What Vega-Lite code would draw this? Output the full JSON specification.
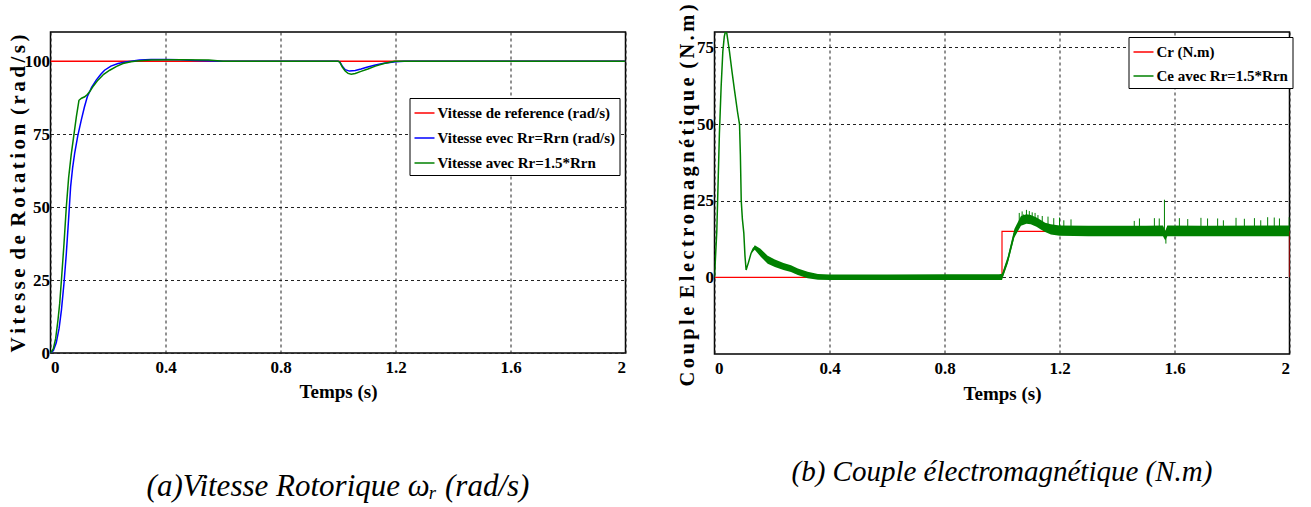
{
  "$schema": "https://vega.github.io/schema/vega-lite/v6.json",
  "background": "white",
  "padding": {"left": 6.5, "top": 3, "right": 0, "bottom": 0},
  "spacing": 50,
  "datasets": {
    "speed": [
      {"t": 0, "v": 100, "s": "Vitesse de reference (rad/s)"},
      {"t": 2, "v": 100, "s": "Vitesse de reference (rad/s)"},
      {"t": 0, "v": 0, "s": "Vitesse evec Rr=Rrn (rad/s)"},
      {"t": 0.01, "v": 0.8, "s": "Vitesse evec Rr=Rrn (rad/s)"},
      {"t": 0.02, "v": 3.5, "s": "Vitesse evec Rr=Rrn (rad/s)"},
      {"t": 0.03, "v": 8.5, "s": "Vitesse evec Rr=Rrn (rad/s)"},
      {"t": 0.038, "v": 14.7, "s": "Vitesse evec Rr=Rrn (rad/s)"},
      {"t": 0.047, "v": 24, "s": "Vitesse evec Rr=Rrn (rad/s)"},
      {"t": 0.055, "v": 34, "s": "Vitesse evec Rr=Rrn (rad/s)"},
      {"t": 0.063, "v": 46, "s": "Vitesse evec Rr=Rrn (rad/s)"},
      {"t": 0.07, "v": 57, "s": "Vitesse evec Rr=Rrn (rad/s)"},
      {"t": 0.077, "v": 63.5, "s": "Vitesse evec Rr=Rrn (rad/s)"},
      {"t": 0.084, "v": 68.4, "s": "Vitesse evec Rr=Rrn (rad/s)"},
      {"t": 0.095, "v": 74.5, "s": "Vitesse evec Rr=Rrn (rad/s)"},
      {"t": 0.107, "v": 79.8, "s": "Vitesse evec Rr=Rrn (rad/s)"},
      {"t": 0.118, "v": 84.3, "s": "Vitesse evec Rr=Rrn (rad/s)"},
      {"t": 0.128, "v": 87.8, "s": "Vitesse evec Rr=Rrn (rad/s)"},
      {"t": 0.143, "v": 91, "s": "Vitesse evec Rr=Rrn (rad/s)"},
      {"t": 0.159, "v": 93.5, "s": "Vitesse evec Rr=Rrn (rad/s)"},
      {"t": 0.175, "v": 95.5, "s": "Vitesse evec Rr=Rrn (rad/s)"},
      {"t": 0.188, "v": 96.9, "s": "Vitesse evec Rr=Rrn (rad/s)"},
      {"t": 0.21, "v": 98.3, "s": "Vitesse evec Rr=Rrn (rad/s)"},
      {"t": 0.235, "v": 99.2, "s": "Vitesse evec Rr=Rrn (rad/s)"},
      {"t": 0.26, "v": 99.7, "s": "Vitesse evec Rr=Rrn (rad/s)"},
      {"t": 0.28, "v": 100, "s": "Vitesse evec Rr=Rrn (rad/s)"},
      {"t": 0.31, "v": 100.4, "s": "Vitesse evec Rr=Rrn (rad/s)"},
      {"t": 0.35, "v": 100.6, "s": "Vitesse evec Rr=Rrn (rad/s)"},
      {"t": 0.4, "v": 100.6, "s": "Vitesse evec Rr=Rrn (rad/s)"},
      {"t": 0.45, "v": 100.5, "s": "Vitesse evec Rr=Rrn (rad/s)"},
      {"t": 0.5, "v": 100.2, "s": "Vitesse evec Rr=Rrn (rad/s)"},
      {"t": 0.6, "v": 100, "s": "Vitesse evec Rr=Rrn (rad/s)"},
      {"t": 1.0, "v": 100, "s": "Vitesse evec Rr=Rrn (rad/s)"},
      {"t": 1.006, "v": 99.8, "s": "Vitesse evec Rr=Rrn (rad/s)"},
      {"t": 1.015, "v": 98.3, "s": "Vitesse evec Rr=Rrn (rad/s)"},
      {"t": 1.025, "v": 97.1, "s": "Vitesse evec Rr=Rrn (rad/s)"},
      {"t": 1.04, "v": 96.6, "s": "Vitesse evec Rr=Rrn (rad/s)"},
      {"t": 1.06, "v": 96.8, "s": "Vitesse evec Rr=Rrn (rad/s)"},
      {"t": 1.08, "v": 97.3, "s": "Vitesse evec Rr=Rrn (rad/s)"},
      {"t": 1.1, "v": 97.9, "s": "Vitesse evec Rr=Rrn (rad/s)"},
      {"t": 1.13, "v": 98.7, "s": "Vitesse evec Rr=Rrn (rad/s)"},
      {"t": 1.16, "v": 99.3, "s": "Vitesse evec Rr=Rrn (rad/s)"},
      {"t": 1.2, "v": 99.8, "s": "Vitesse evec Rr=Rrn (rad/s)"},
      {"t": 1.23, "v": 100, "s": "Vitesse evec Rr=Rrn (rad/s)"},
      {"t": 2.0, "v": 100, "s": "Vitesse evec Rr=Rrn (rad/s)"},
      {"t": 0, "v": 0, "s": "Vitesse avec Rr=1.5*Rrn"},
      {"t": 0.01, "v": 1.5, "s": "Vitesse avec Rr=1.5*Rrn"},
      {"t": 0.018, "v": 5, "s": "Vitesse avec Rr=1.5*Rrn"},
      {"t": 0.026, "v": 11.3, "s": "Vitesse avec Rr=1.5*Rrn"},
      {"t": 0.032, "v": 17, "s": "Vitesse avec Rr=1.5*Rrn"},
      {"t": 0.038, "v": 25, "s": "Vitesse avec Rr=1.5*Rrn"},
      {"t": 0.047, "v": 37.5, "s": "Vitesse avec Rr=1.5*Rrn"},
      {"t": 0.055, "v": 50, "s": "Vitesse avec Rr=1.5*Rrn"},
      {"t": 0.063, "v": 60, "s": "Vitesse avec Rr=1.5*Rrn"},
      {"t": 0.072, "v": 68, "s": "Vitesse avec Rr=1.5*Rrn"},
      {"t": 0.082, "v": 75.2, "s": "Vitesse avec Rr=1.5*Rrn"},
      {"t": 0.09, "v": 81, "s": "Vitesse avec Rr=1.5*Rrn"},
      {"t": 0.099, "v": 86.6, "s": "Vitesse avec Rr=1.5*Rrn"},
      {"t": 0.108, "v": 87.3, "s": "Vitesse avec Rr=1.5*Rrn"},
      {"t": 0.119, "v": 87.8, "s": "Vitesse avec Rr=1.5*Rrn"},
      {"t": 0.128, "v": 88.6, "s": "Vitesse avec Rr=1.5*Rrn"},
      {"t": 0.136, "v": 89.5, "s": "Vitesse avec Rr=1.5*Rrn"},
      {"t": 0.15, "v": 91.6, "s": "Vitesse avec Rr=1.5*Rrn"},
      {"t": 0.165, "v": 93.5, "s": "Vitesse avec Rr=1.5*Rrn"},
      {"t": 0.185, "v": 95.5, "s": "Vitesse avec Rr=1.5*Rrn"},
      {"t": 0.206, "v": 96.9, "s": "Vitesse avec Rr=1.5*Rrn"},
      {"t": 0.23, "v": 98.2, "s": "Vitesse avec Rr=1.5*Rrn"},
      {"t": 0.252, "v": 99.2, "s": "Vitesse avec Rr=1.5*Rrn"},
      {"t": 0.28, "v": 99.8, "s": "Vitesse avec Rr=1.5*Rrn"},
      {"t": 0.3, "v": 100.1, "s": "Vitesse avec Rr=1.5*Rrn"},
      {"t": 0.35, "v": 100.4, "s": "Vitesse avec Rr=1.5*Rrn"},
      {"t": 0.45, "v": 100.5, "s": "Vitesse avec Rr=1.5*Rrn"},
      {"t": 0.55, "v": 100.4, "s": "Vitesse avec Rr=1.5*Rrn"},
      {"t": 0.6, "v": 100, "s": "Vitesse avec Rr=1.5*Rrn"},
      {"t": 1.0, "v": 100, "s": "Vitesse avec Rr=1.5*Rrn"},
      {"t": 1.006, "v": 99.7, "s": "Vitesse avec Rr=1.5*Rrn"},
      {"t": 1.015, "v": 98, "s": "Vitesse avec Rr=1.5*Rrn"},
      {"t": 1.025, "v": 96.6, "s": "Vitesse avec Rr=1.5*Rrn"},
      {"t": 1.035, "v": 95.8, "s": "Vitesse avec Rr=1.5*Rrn"},
      {"t": 1.046, "v": 95.5, "s": "Vitesse avec Rr=1.5*Rrn"},
      {"t": 1.06, "v": 95.8, "s": "Vitesse avec Rr=1.5*Rrn"},
      {"t": 1.08, "v": 96.5, "s": "Vitesse avec Rr=1.5*Rrn"},
      {"t": 1.104, "v": 97.3, "s": "Vitesse avec Rr=1.5*Rrn"},
      {"t": 1.13, "v": 98.3, "s": "Vitesse avec Rr=1.5*Rrn"},
      {"t": 1.16, "v": 99.2, "s": "Vitesse avec Rr=1.5*Rrn"},
      {"t": 1.197, "v": 100, "s": "Vitesse avec Rr=1.5*Rrn"},
      {"t": 2.0, "v": 100, "s": "Vitesse avec Rr=1.5*Rrn"}
    ],
    "torque": [
      {"t": 0, "v": 0, "s": "Cr (N.m)"},
      {"t": 1.0, "v": 0, "s": "Cr (N.m)"},
      {"t": 1.0, "v": 15, "s": "Cr (N.m)"},
      {"t": 2.0, "v": 15, "s": "Cr (N.m)"},
      {"t": 2.0, "v": 0, "s": "Cr (N.m)"},
      {"t": 0, "v": 0, "s": "Ce avec Rr=1.5*Rrn"},
      {"t": 0.008, "v": 15, "s": "Ce avec Rr=1.5*Rrn"},
      {"t": 0.017, "v": 46.7, "s": "Ce avec Rr=1.5*Rrn"},
      {"t": 0.023, "v": 62, "s": "Ce avec Rr=1.5*Rrn"},
      {"t": 0.029, "v": 73.7, "s": "Ce avec Rr=1.5*Rrn"},
      {"t": 0.034, "v": 78.5, "s": "Ce avec Rr=1.5*Rrn"},
      {"t": 0.038, "v": 80.2, "s": "Ce avec Rr=1.5*Rrn"},
      {"t": 0.043, "v": 79.5, "s": "Ce avec Rr=1.5*Rrn"},
      {"t": 0.052, "v": 73.7, "s": "Ce avec Rr=1.5*Rrn"},
      {"t": 0.061, "v": 67, "s": "Ce avec Rr=1.5*Rrn"},
      {"t": 0.07, "v": 60.7, "s": "Ce avec Rr=1.5*Rrn"},
      {"t": 0.08, "v": 54, "s": "Ce avec Rr=1.5*Rrn"},
      {"t": 0.087, "v": 49.9, "s": "Ce avec Rr=1.5*Rrn"},
      {"t": 0.09, "v": 40, "s": "Ce avec Rr=1.5*Rrn"},
      {"t": 0.093, "v": 25, "s": "Ce avec Rr=1.5*Rrn"},
      {"t": 0.097, "v": 19, "s": "Ce avec Rr=1.5*Rrn"},
      {"t": 0.102, "v": 14.4, "s": "Ce avec Rr=1.5*Rrn"},
      {"t": 0.106, "v": 7, "s": "Ce avec Rr=1.5*Rrn"},
      {"t": 0.11, "v": 2.4, "s": "Ce avec Rr=1.5*Rrn"},
      {"t": 0.118, "v": 4.8, "s": "Ce avec Rr=1.5*Rrn"},
      {"t": 0.127, "v": 7.8, "s": "Ce avec Rr=1.5*Rrn"},
      {"t": 0.135, "v": 9.4, "s": "Ce avec Rr=1.5*Rrn"},
      {"t": 0.141, "v": 9.9, "s": "Ce avec Rr=1.5*Rrn"},
      {"t": 0.15, "v": 8.8, "s": "Ce avec Rr=1.5*Rrn"},
      {"t": 0.165, "v": 7.3, "s": "Ce avec Rr=1.5*Rrn"},
      {"t": 0.185, "v": 5.6, "s": "Ce avec Rr=1.5*Rrn"},
      {"t": 0.21, "v": 4.5, "s": "Ce avec Rr=1.5*Rrn"},
      {"t": 0.24, "v": 3.5, "s": "Ce avec Rr=1.5*Rrn"},
      {"t": 0.266, "v": 2.7, "s": "Ce avec Rr=1.5*Rrn"},
      {"t": 0.29, "v": 1.8, "s": "Ce avec Rr=1.5*Rrn"},
      {"t": 0.324, "v": 0.7, "s": "Ce avec Rr=1.5*Rrn"},
      {"t": 0.36, "v": 0.1, "s": "Ce avec Rr=1.5*Rrn"},
      {"t": 0.4, "v": 0, "s": "Ce avec Rr=1.5*Rrn"},
      {"t": 1.0, "v": 0.2, "s": "Ce avec Rr=1.5*Rrn"},
      {"t": 1.02, "v": 5.6, "s": "Ce avec Rr=1.5*Rrn"},
      {"t": 1.043, "v": 14.3, "s": "Ce avec Rr=1.5*Rrn"},
      {"t": 1.066, "v": 18.3, "s": "Ce avec Rr=1.5*Rrn"},
      {"t": 1.085, "v": 19, "s": "Ce avec Rr=1.5*Rrn"},
      {"t": 1.1, "v": 18.8, "s": "Ce avec Rr=1.5*Rrn"},
      {"t": 1.12, "v": 18, "s": "Ce avec Rr=1.5*Rrn"},
      {"t": 1.135, "v": 17, "s": "Ce avec Rr=1.5*Rrn"},
      {"t": 1.15, "v": 16.2, "s": "Ce avec Rr=1.5*Rrn"},
      {"t": 1.17, "v": 15.5, "s": "Ce avec Rr=1.5*Rrn"},
      {"t": 1.2, "v": 15.2, "s": "Ce avec Rr=1.5*Rrn"},
      {"t": 1.3, "v": 15.1, "s": "Ce avec Rr=1.5*Rrn"},
      {"t": 1.56, "v": 15.1, "s": "Ce avec Rr=1.5*Rrn"},
      {"t": 1.568, "v": 13.5, "s": "Ce avec Rr=1.5*Rrn"},
      {"t": 1.575, "v": 15.1, "s": "Ce avec Rr=1.5*Rrn"},
      {"t": 2.0, "v": 15.1, "s": "Ce avec Rr=1.5*Rrn"}
    ],
    "band": [
      {"t": 0.13, "lo": 8.0, "hi": 8.6},
      {"t": 0.14, "lo": 9.0, "hi": 10.5},
      {"t": 0.16, "lo": 6.8, "hi": 9.3},
      {"t": 0.185, "lo": 4.4, "hi": 7.0},
      {"t": 0.21, "lo": 3.4, "hi": 5.8},
      {"t": 0.24, "lo": 2.4, "hi": 4.7},
      {"t": 0.266, "lo": 1.7, "hi": 3.9},
      {"t": 0.29, "lo": 0.8, "hi": 2.9},
      {"t": 0.324, "lo": -0.3, "hi": 1.8},
      {"t": 0.36, "lo": -0.8, "hi": 1.1},
      {"t": 0.4, "lo": -0.9, "hi": 0.9},
      {"t": 0.6, "lo": -0.9, "hi": 0.9},
      {"t": 0.8, "lo": -0.9, "hi": 1.0},
      {"t": 0.99, "lo": -0.9, "hi": 1.0},
      {"t": 1.0, "lo": -0.9, "hi": 1.2},
      {"t": 1.02, "lo": 4.5, "hi": 6.8},
      {"t": 1.043, "lo": 13, "hi": 15.8},
      {"t": 1.066, "lo": 16.8, "hi": 20},
      {"t": 1.085, "lo": 17.5, "hi": 20.6},
      {"t": 1.1, "lo": 17.3, "hi": 20.3},
      {"t": 1.12, "lo": 16.5, "hi": 19.5},
      {"t": 1.135, "lo": 15.6, "hi": 18.7},
      {"t": 1.15, "lo": 14.8, "hi": 17.8},
      {"t": 1.17, "lo": 14.0, "hi": 17.3},
      {"t": 1.2, "lo": 13.6, "hi": 16.9},
      {"t": 1.3, "lo": 13.4, "hi": 16.8},
      {"t": 1.5, "lo": 13.4, "hi": 16.8},
      {"t": 1.56, "lo": 13.4, "hi": 16.9},
      {"t": 1.568, "lo": 12.0, "hi": 15.2},
      {"t": 1.575, "lo": 13.4, "hi": 16.9},
      {"t": 1.7, "lo": 13.4, "hi": 16.8},
      {"t": 2.0, "lo": 13.4, "hi": 16.9}
    ],
    "spikes": [
      {"t": 1.06, "base": 17, "peak": 21},
      {"t": 1.07, "base": 18, "peak": 21.5},
      {"t": 1.075, "base": 18, "peak": 20.5},
      {"t": 1.085, "base": 18, "peak": 22},
      {"t": 1.095, "base": 18, "peak": 21.6},
      {"t": 1.105, "base": 18, "peak": 21.2},
      {"t": 1.115, "base": 17.5, "peak": 21},
      {"t": 1.125, "base": 17, "peak": 20.3},
      {"t": 1.14, "base": 16.5, "peak": 20},
      {"t": 1.16, "base": 16, "peak": 19.8},
      {"t": 1.18, "base": 15.5, "peak": 19.3},
      {"t": 1.2, "base": 15, "peak": 19.5},
      {"t": 1.215, "base": 15, "peak": 18.6},
      {"t": 1.24, "base": 15, "peak": 18.9},
      {"t": 1.46, "base": 15, "peak": 18.4},
      {"t": 1.478, "base": 15, "peak": 19.2},
      {"t": 1.53, "base": 15, "peak": 19.3},
      {"t": 1.547, "base": 15, "peak": 19.2},
      {"t": 1.565, "base": 15, "peak": 25.3},
      {"t": 1.57, "base": 15, "peak": 11.0},
      {"t": 1.617, "base": 15, "peak": 19.3},
      {"t": 1.646, "base": 15, "peak": 19},
      {"t": 1.692, "base": 15, "peak": 19.4},
      {"t": 1.715, "base": 15, "peak": 19.2},
      {"t": 1.75, "base": 15, "peak": 19.2},
      {"t": 1.77, "base": 15, "peak": 18.6},
      {"t": 1.814, "base": 15, "peak": 19.4},
      {"t": 1.843, "base": 15, "peak": 19.1},
      {"t": 1.878, "base": 15, "peak": 19.3},
      {"t": 1.9, "base": 15, "peak": 18.6},
      {"t": 1.924, "base": 15, "peak": 19.6},
      {"t": 1.947, "base": 15, "peak": 19.5},
      {"t": 1.965, "base": 15, "peak": 19.2},
      {"t": 1.999, "base": 15, "peak": 19.6}
    ]
  },
  "hconcat": [
    {
      "width": 575,
      "height": 321,
      "title": {
        "text": "(a)Vitesse Rotorique ω\u1d63 (rad/s)",
        "orient": "bottom",
        "anchor": "middle",
        "font": "Liberation Serif",
        "fontStyle": "italic",
        "fontWeight": "normal",
        "fontSize": 31,
        "color": "#000",
        "offset": 71
      },
      "data": {"name": "speed"},
      "encoding": {
        "x": {
          "field": "t",
          "type": "quantitative",
          "scale": {"domain": [0, 2], "nice": false},
          "axis": {
            "values": [0, 0.4, 0.8, 1.2, 1.6, 2],
            "format": "~g",
            "labelPadding": 6,
            "title": "Temps (s)",
            "titleFontSize": 19,
            "titleX": 287.5,
            "titleY": 38,
            "titleBaseline": "middle"
          }
        },
        "y": {
          "field": "v",
          "type": "quantitative",
          "scale": {"domain": [0, 110], "nice": false},
          "axis": {
            "values": [0, 25, 50, 75, 100],
            "labelPadding": 1,
            "title": "V\u2006i\u2006t\u2006e\u2006s\u2006s\u2006e\u2006 d\u2006e\u2006 R\u2006o\u2006t\u2006a\u2006t\u2006i\u2006o\u2006n\u2006 (\u2006r\u2006a\u2006d\u2006/\u2006s\u2006)",
            "titleFontSize": 21,
            "titleX": -32,
            "titleY": 161,
            "titleBaseline": "middle",
            "titleAngle": -90
          }
        },
        "color": {
          "field": "s",
          "type": "nominal",
          "scale": {
            "domain": ["Vitesse de reference (rad/s)", "Vitesse evec Rr=Rrn (rad/s)", "Vitesse avec Rr=1.5*Rrn"],
            "range": ["#ff0000", "#0000ff", "#008000"]
          },
          "legend": {
            "orient": "none",
            "legendX": 359,
            "legendY": 66,
            "title": null,
            "symbolType": "stroke",
            "symbolSize": 400,
            "symbolStrokeWidth": 1.5,
            "labelFont": "Liberation Serif",
            "labelFontWeight": "bold",
            "labelFontSize": 15,
            "labelColor": "#000",
            "labelLimit": 400,
            "labelOffset": 2,
            "rowPadding": 6,
            "padding": 4,
            "strokeColor": "#000",
            "fillColor": "#fff",
            "cornerRadius": 0
          }
        }
      },
      "layer": [
        {
          "transform": [{"filter": {"field": "s", "equal": "Vitesse de reference (rad/s)"}}],
          "mark": {"type": "line", "strokeWidth": 1.5, "clip": true}
        },
        {
          "transform": [{"filter": {"field": "s", "equal": "Vitesse evec Rr=Rrn (rad/s)"}}],
          "mark": {"type": "line", "strokeWidth": 1.5, "clip": true}
        },
        {
          "transform": [{"filter": {"field": "s", "equal": "Vitesse avec Rr=1.5*Rrn"}}],
          "mark": {"type": "line", "strokeWidth": 1.5, "clip": true}
        }
      ]
    },
    {
      "width": 575,
      "height": 322,
      "title": {
        "text": "(b) Couple électromagnétique (N.m)",
        "orient": "bottom",
        "anchor": "middle",
        "font": "Liberation Serif",
        "fontStyle": "italic",
        "fontWeight": "normal",
        "fontSize": 29,
        "color": "#000",
        "offset": 55
      },
      "encoding": {
        "x": {
          "field": "t",
          "type": "quantitative",
          "scale": {"domain": [0, 2], "nice": false},
          "axis": {
            "values": [0, 0.4, 0.8, 1.2, 1.6, 2],
            "format": "~g",
            "labelPadding": 6,
            "title": "Temps (s)",
            "titleFontSize": 19,
            "titleX": 287.5,
            "titleY": 39,
            "titleBaseline": "middle"
          }
        },
        "y": {
          "field": "v",
          "type": "quantitative",
          "scale": {"domain": [-25, 80], "nice": false},
          "axis": {
            "values": [0, 25, 50, 75],
            "labelPadding": 1,
            "title": "C\u2006o\u2006u\u2006p\u2006l\u2006e\u2006 E\u2006l\u2006e\u2006c\u2006t\u2006r\u2006o\u2006m\u2006a\u2006g\u2006n\u2006é\u2006t\u2006i\u2006q\u2006u\u2006e\u2006 (\u2006N\u2006.\u2006m\u2006)",
            "titleFontSize": 20.5,
            "titleX": -27,
            "titleY": 163,
            "titleBaseline": "middle",
            "titleAngle": -90
          }
        }
      },
      "layer": [
        {
          "data": {"name": "torque"},
          "transform": [{"filter": {"field": "s", "equal": "Cr (N.m)"}}],
          "mark": {"type": "line", "strokeWidth": 1.2, "clip": true},
          "encoding": {
            "color": {
              "field": "s",
              "type": "nominal",
              "scale": {"domain": ["Cr (N.m)", "Ce avec Rr=1.5*Rrn"], "range": ["#ff0000", "#008000"]},
              "legend": {
                "orient": "none",
                "legendX": 414,
                "legendY": 5,
                "title": null,
                "symbolType": "stroke",
                "symbolSize": 400,
                "symbolStrokeWidth": 1.5,
                "labelFont": "Liberation Serif",
                "labelFontWeight": "bold",
                "labelFontSize": 15,
                "labelColor": "#000",
                "labelLimit": 400,
                "labelOffset": 2,
                "rowPadding": 5,
                "padding": 4,
                "strokeColor": "#000",
                "fillColor": "#fff",
                "cornerRadius": 0
              }
            }
          }
        },
        {
          "data": {"name": "band"},
          "mark": {"type": "area", "color": "#008000", "clip": true},
          "encoding": {
            "y": {"field": "lo", "type": "quantitative"},
            "y2": {"field": "hi"}
          }
        },
        {
          "data": {"name": "torque"},
          "transform": [{"filter": {"field": "s", "equal": "Ce avec Rr=1.5*Rrn"}}],
          "mark": {"type": "line", "strokeWidth": 1.5, "clip": true},
          "encoding": {
            "color": {"field": "s", "type": "nominal"}
          }
        },
        {
          "data": {"name": "spikes"},
          "mark": {"type": "rule", "color": "#008000", "strokeWidth": 1, "clip": true},
          "encoding": {
            "y": {"field": "base", "type": "quantitative"},
            "y2": {"field": "peak"}
          }
        }
      ]
    }
  ],
  "resolve": {"scale": {"color": "independent"}, "legend": {"color": "independent"}},
  "config": {
    "view": {"stroke": "#000", "strokeWidth": 1.5, "fill": "#fff"},
    "axis": {
      "labelFont": "Liberation Serif",
      "labelFontWeight": "bold",
      "labelFontSize": 17,
      "labelColor": "#000",
      "titleFont": "Liberation Serif",
      "titleFontWeight": "bold",
      "titleColor": "#000",
      "ticks": false,
      "domain": false,
      "grid": true,
      "gridColor": "#222",
      "gridDash": [3, 3],
      "gridWidth": 1,
      "gridOpacity": 1
    }
  }
}
